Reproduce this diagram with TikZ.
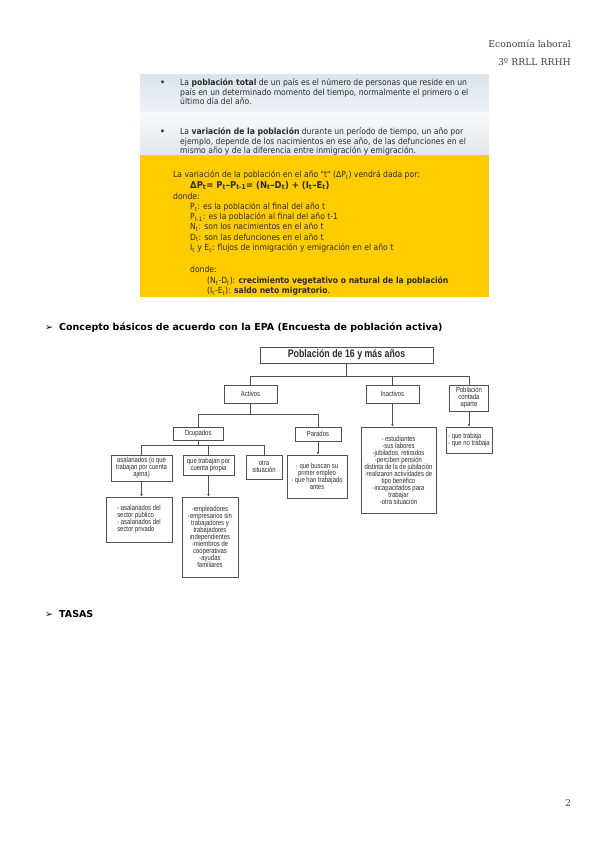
\documentclass[tikz,border=0pt]{standalone}
\usepackage{fontspec}
\setmainfont{DejaVu Serif}
\newfontfamily\topf[FakeStretch=0.9]{DejaVu Sans}
\newfontfamily\yelf[FakeStretch=0.9]{DejaVu Sans}
\newfontfamily\headf{DejaVu Sans}
\newfontfamily\narrowf[FakeStretch=0.8]{Liberation Sans}
\usetikzlibrary{arrows.meta}
\definecolor{yel}{HTML}{FFCC00}
\definecolor{paneltop}{HTML}{DCE4EC}
\definecolor{panelmid}{HTML}{EEF2F5}
\definecolor{panelbot}{HTML}{E2E6EB}
\definecolor{ink}{HTML}{2B2B2B}
\definecolor{boxline}{HTML}{505050}
\tikzset{
  toptext/.style={anchor=west, inner sep=0pt, text height=0.75em, text depth=0.2em, text=ink,
    font=\topf\fontsize{8.5}{10}\selectfont},
  yeltext/.style={anchor=west, inner sep=0pt, text height=0.75em, text depth=0.2em, text=ink,
    font=\yelf\fontsize{8.5}{10}\selectfont},
  hdrtext/.style={anchor=base east, inner sep=0pt, text=ink!90, font=\fontsize{9.3}{11}\selectfont},
  sectext/.style={anchor=west, inner sep=0pt, text height=0.75em, text depth=0.2em, text=black,
    font=\headf\bfseries\fontsize{9.5}{11}\selectfont},
  dbox/.style={draw=boxline, line width=0.8pt, fill=white, inner sep=1pt, align=center,
    text=ink, font=\narrowf\fontsize{7.4}{7}\selectfont},
  conn/.style={draw=boxline, line width=0.75pt},
  arr/.style={conn, -{Latex[length=2.5pt,width=2.5pt]}}
}
\begin{document}
\begin{tikzpicture}[x=1pt,y=-1pt]
\useasboundingbox (0,0) rectangle (599,848);
\fill[white] (0,0) rectangle (599,848);

% header
\node[hdrtext] (h1) at (571,48) {Economía laboral};
\node[hdrtext] (h2) at (571,66) {3º RRLL RRHH};

% top panel
\shade[top color=paneltop, bottom color=panelmid] (140,75) rectangle (489,113);
\shade[top color=white!60!panelmid, bottom color=panelbot] (140,113) rectangle (489,155.5);
\fill[yel] (140,155) rectangle (489,297);

\node[toptext, font=\topf\bfseries\fontsize{8.5}{10}\selectfont] (b1) at (160,83) {•};
\node[toptext] (t11) at (180,83) {La \textbf{población total} de un país es el número de personas que reside en un};
\node[toptext] (t12) at (180,92.5) {país en un determinado momento del tiempo, normalmente el primero o el};
\node[toptext] (t13) at (180,102) {último día del año.};
\node[toptext, font=\topf\bfseries\fontsize{8.5}{10}\selectfont] (b2) at (160,132) {•};
\node[toptext] (t21) at (180,132) {La \textbf{variación de la población} durante un período de tiempo, un año por};
\node[toptext] (t22) at (180,141.5) {ejemplo, depende de los nacimientos en ese año, de las defunciones en el};
\node[toptext] (t23) at (180,151) {mismo año y de la diferencia entre inmigración y emigración.};

\node[yeltext] (y1) at (173,175) {La variación de la población en el año "t" (ΔP\textsubscript{t}) vendrá dada por:};
\node[yeltext, font=\yelf\bfseries\fontsize{9.4}{11}\selectfont] (y2) at (190,185.5) {ΔP\textsubscript{t}= P\textsubscript{t}–P\textsubscript{t-1}= (N\textsubscript{t}–D\textsubscript{t}) + (I\textsubscript{t}–E\textsubscript{t})};
\node[yeltext] (y3) at (173,197) {donde:};
\node[yeltext] (y4) at (190,207) {P\textsubscript{t}: es la población al final del año t};
\node[yeltext] (y5) at (190,217) {P\textsubscript{t-1}: es la población al final del año t-1};
\node[yeltext] (y6) at (190,227) {N\textsubscript{t}: son los nacimientos en el año t};
\node[yeltext] (y7) at (190,237.5) {D\textsubscript{t}: son las defunciones en el año t};
\node[yeltext] (y8) at (190,248) {I\textsubscript{t} y E\textsubscript{t}: flujos de inmigración y emigración en el año t};
\node[yeltext] (y9) at (190,270) {donde:};
\node[yeltext] (y10) at (207,281) {(N\textsubscript{t}-D\textsubscript{t}): \textbf{crecimiento vegetativo o natural de la población}};
\node[yeltext] (y11) at (207,291) {(I\textsubscript{t}-E\textsubscript{t}): \textbf{saldo neto migratorio}.};

% section heading
\node[sectext, font=\headf\fontsize{9.5}{11}\selectfont] (a1) at (45,328) {➢};
\node[sectext] (s1) at (59,328) {Concepto básicos de acuerdo con la EPA (Encuesta de población activa)};

% diagram
\node[dbox, minimum width=173pt, minimum height=16pt, font=\narrowf\bfseries\fontsize{11}{12}\selectfont] (top) at (346.5,355) {Población de 16 y más años};
\node[dbox, minimum width=53pt, minimum height=18pt] (act) at (250.5,394) {Activos};
\node[dbox, minimum width=53pt, minimum height=18pt] (inact) at (392.5,394) {Inactivos};
\node[dbox, minimum width=39pt, minimum height=26pt] (pca) at (469,398) {Población\\contada\\aparte};
\node[dbox, minimum width=50pt, minimum height=13pt] (ocup) at (198,433.5) {Ocupados};
\node[dbox, minimum width=46pt, minimum height=14pt] (par) at (318,434) {Parados};
\node[dbox, minimum width=75pt, minimum height=86pt] (inl) at (398.5,470) {- estudiantes\\-sus labores\\-jubilados, retirados\\-perciben pensión\\distinta de la de jubilación\\-realizaron actividades de\\tipo benéfico\\-incapacitados para\\trabajar\\-otra situación};
\node[dbox, minimum width=46pt, minimum height=26pt, align=left] (pcl) at (469,440) {- que trabaja\\- que no trabaja};
\node[dbox, minimum width=60pt, minimum height=43pt] (parl) at (317,476.5) {- que buscan su\\primer empleo\\- que han trabajado\\antes};
\node[dbox, minimum width=61pt, minimum height=26pt] (asal) at (141.5,468) {asalariados (o que\\trabajan por cuenta\\ajena)};
\node[dbox, minimum width=51pt, minimum height=20pt] (cprop) at (208.5,465) {que trabajan por\\cuenta propia};
\node[dbox, minimum width=36pt, minimum height=24pt] (otra) at (264,467) {otra\\situación};
\node[dbox, minimum width=66pt, minimum height=45pt, align=left] (asall) at (139,519.5) {- asalariados del\\sector público\\- asalariados del\\sector privado};
\node[dbox, minimum width=56pt, minimum height=80pt] (cpl) at (210,537) {-empleadores\\-empresarios sin\\trabajadores y\\trabajadores\\independientes\\-miembros de\\cooperativas\\-ayudas\\familiares};

\coordinate (bus1) at (0,376);
\coordinate (bus2) at (0,414);
\coordinate (bus3) at (0,445);
\draw[conn] (top.south) -- (top.south |- bus1);
\draw[conn] (act.north) -- (act.north |- bus1) -- (pca.north |- bus1) -- (pca.north);
\draw[conn] (inact.north) -- (inact.north |- bus1);
\draw[conn] (act.south) -- (act.south |- bus2);
\draw[conn] (ocup.north) -- (ocup.north |- bus2) -- (par.north |- bus2) -- (par.north);
\draw[conn] (ocup.south) -- (ocup.south |- bus3);
\draw[conn] (asal.north) -- (asal.north |- bus3) -- (otra.north |- bus3) -- (otra.north);
\draw[conn] (cprop.north) -- (cprop.north |- bus3);
\draw[arr] (inact.south) -- (inact.south |- inl.north);
\draw[arr] (pca.south) -- (pca.south |- pcl.north);
\draw[arr] (par.south) -- (par.south |- parl.north);
\draw[arr] (asal.south) -- (asal.south |- asall.north);
\draw[arr] (cprop.south) -- (cprop.south |- cpl.north);

% TASAS
\node[sectext, font=\headf\fontsize{9.5}{11}\selectfont] (a2) at (45,615) {➢};
\node[sectext] (s2) at (59,615) {TASAS};

% page number
\node[hdrtext, anchor=base] (pg) at (568,806) {2};
\end{tikzpicture}
\end{document}
